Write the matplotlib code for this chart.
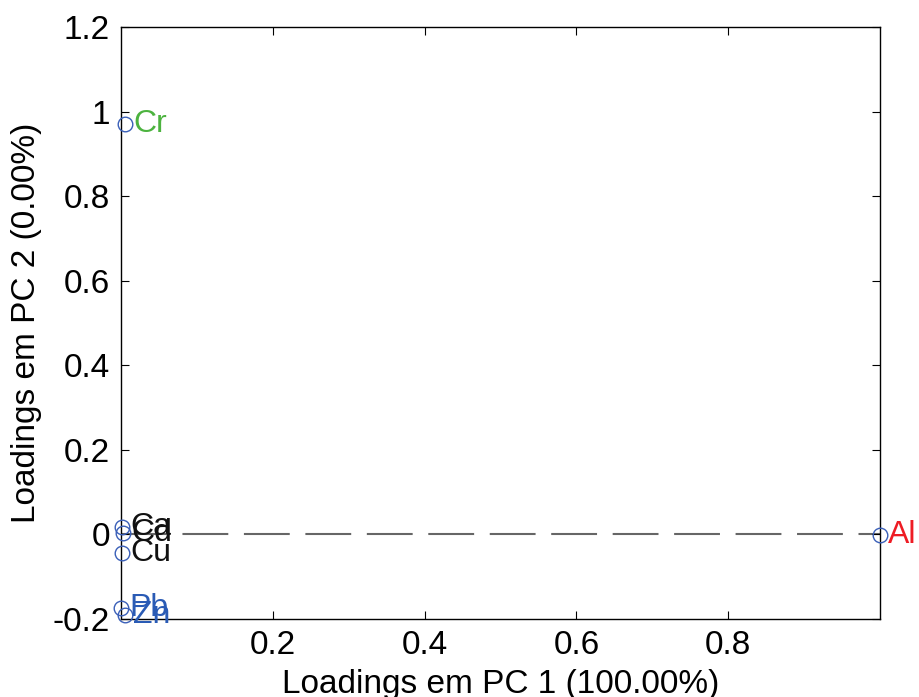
import matplotlib
matplotlib.use("Agg")
import matplotlib.pyplot as plt

names = ["Cr", "Ca", "Cd", "Cu", "Pb", "Zn", "Al"]
pc1 = [0.005, 0.001, 0.003, 0.002, 0.0, 0.005, 1.0]
pc2 = [0.970, 0.018, 0.004, -0.043, -0.175, -0.190, -0.002]
label_colors = ["#4cb33f", "#111111", "#111111", "#111111", "#2a5bb5", "#2a5bb5", "#ee1c24"]

xticks = [0.2, 0.4, 0.6, 0.8]
yticks = [-0.2, 0.0, 0.2, 0.4, 0.6, 0.8, 1.0, 1.2]
yticklabels = ["-0.2", "0", "0.2", "0.4", "0.6", "0.8", "1", "1.2"]

plt.rcParams['font.family'] = ['Liberation Sans', 'DejaVu Sans']

fig = plt.figure(figsize=(9.2, 6.97), dpi=100)
ax = fig.add_axes([0.1315, 0.1119, 0.825, 0.8494])

ax.plot([0, 1], [0, 0], linestyle=(0, (22, 7.5)), color="#666666", linewidth=1.5, zorder=1)
ax.plot(pc1, pc2, linestyle="none", marker="o", markersize=10.5, markerfacecolor="none",
        markeredgecolor="#3a5fb8", markeredgewidth=1.0, clip_on=False, zorder=3)
for n, x, y, c in zip(names, pc1, pc2, label_colors):
    ax.annotate(n, (x, y), xytext=(6, 0), textcoords="offset points", ha="left", va="center",
                fontsize=23, color=c, annotation_clip=False)

ax.set_xlim(min(pc1), max(pc1))
ax.set_ylim(-0.2, 1.2)
ax.set_xticks(xticks)
ax.set_xticklabels([f"{t:.1f}" for t in xticks])
ax.set_yticks(yticks)
ax.set_yticklabels(yticklabels)
ax.tick_params(direction="in", top=True, right=True, labelsize=24, length=6, width=0.8, pad=8)
for s in ax.spines.values():
    s.set_linewidth(1.0)
ax.set_xlabel("Loadings em PC 1 (100.00%)", fontsize=24, labelpad=6)
ax.set_ylabel("Loadings em PC 2 (0.00%)", fontsize=24, labelpad=8)

fig.savefig("out.png", dpi=100)
